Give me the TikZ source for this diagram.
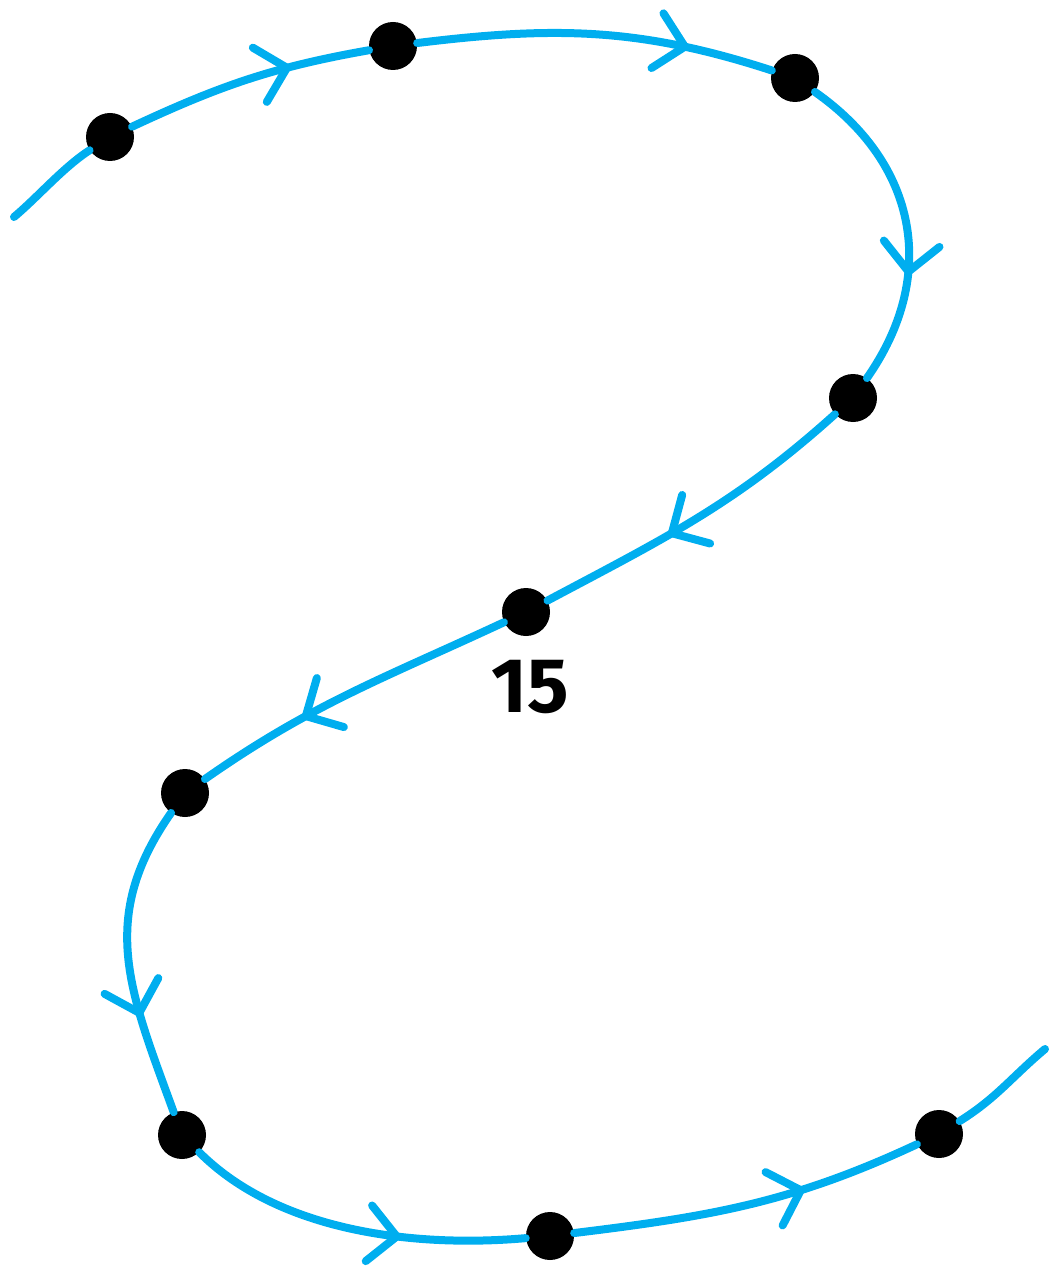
\documentclass[tikz,border=0pt]{standalone}
\usepackage{fontspec}
\setsansfont{Fira Sans}
\usetikzlibrary{arrows.meta,decorations.markings}
\definecolor{curveblue}{HTML}{00AEEF}
\begin{document}
\begin{tikzpicture}[
    dot/.style={circle, fill=black, inner sep=0pt, minimum size=0.96cm},
    curve/.style={draw=curveblue, line width=0.16cm, line cap=round},
    flow/.style={curve, decoration={markings,
      mark=at position #1 with {\arrow[curveblue]{Straight Barb[length=0.56cm, width=1.12cm, round]}}},
      postaction=decorate},
    flow/.default=0.62
]
  \useasboundingbox (0,0) rectangle (20.98,-25.38);
  \coordinate (s) at (0.28,-4.34);
  \coordinate (t) at (20.9,-20.98);
  \node[dot] (a) at (2.2,-2.74)   {};
  \node[dot] (b) at (7.86,-0.92)  {};
  \node[dot] (c) at (15.9,-1.56)  {};
  \node[dot] (d) at (17.06,-7.96) {};
  \node[dot] (e) at (10.52,-12.24) {};
  \node[dot] (f) at (3.7,-15.86)  {};
  \node[dot] (g) at (3.64,-22.7)  {};
  \node[dot] (h) at (11.0,-24.72) {};
  \node[dot] (i) at (18.78,-22.68) {};
  \draw[curve] (s) to[out=40, in=213, looseness=0.8] (a);
  \draw[flow=0.68] (a) to[out=25, in=190] (b);
  \draw[flow=0.76] (b) to[out=7, in=162] (c);
  \draw[flow=0.66] (c) to[out=-35, in=55, looseness=1.1] (d);
  \draw[flow=0.6] (d) to[out=-138, in=28] (e);
  \draw[flow=0.66] (e) to[out=-155, in=35] (f);
  \draw[flow=0.68] (f) to[out=-125, in=110, looseness=1.1] (g);
  \draw[flow=0.64] (g) to[out=-45, in=185, looseness=0.85] (h);
  \draw[flow=0.66] (h) to[out=7, in=205] (i);
  \draw[curve] (i) to[out=32, in=220] (t);
  \node[font=\sffamily\bfseries\fontsize{44}{44}\selectfont] (lbl) at (10.6,-13.74) {15};
\end{tikzpicture}
\end{document}
